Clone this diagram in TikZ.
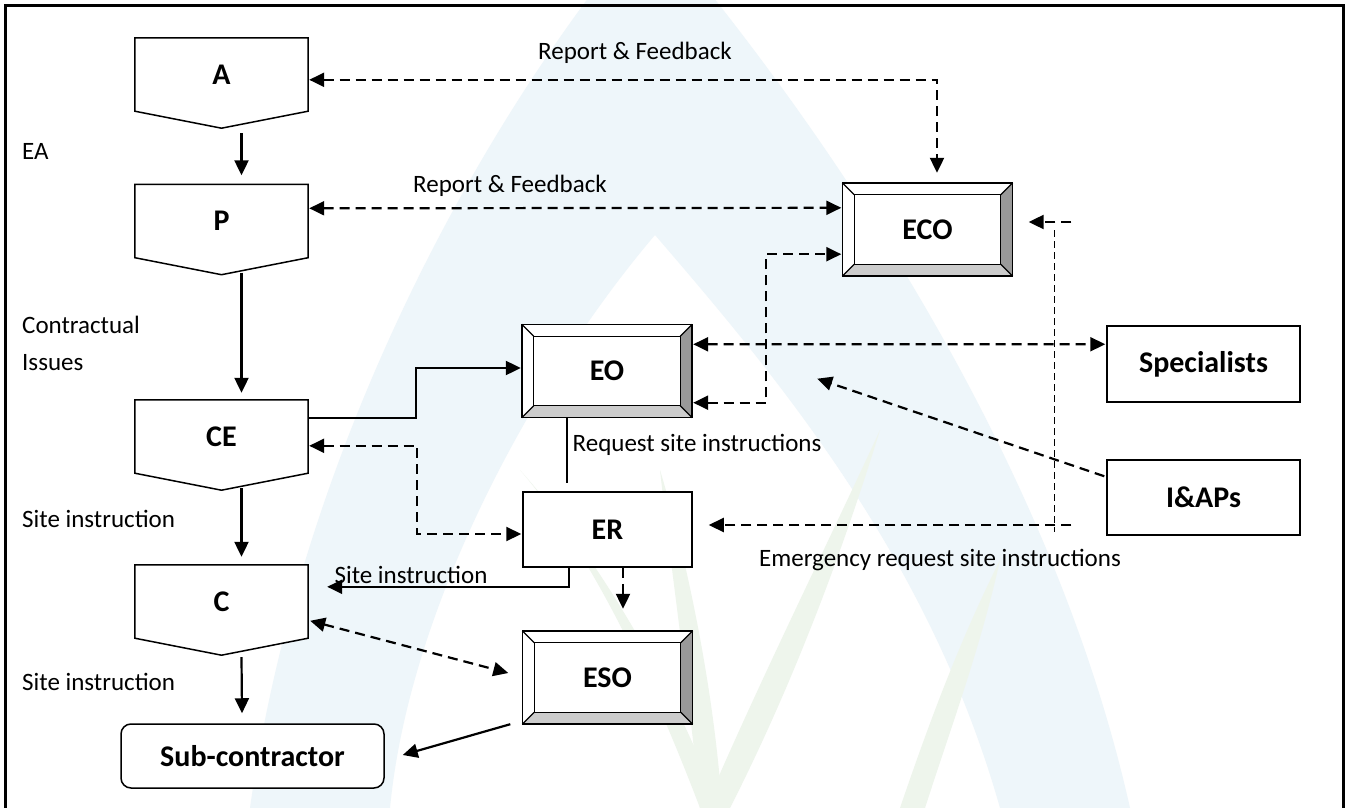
\documentclass[tikz,border=0pt]{standalone}
\usepackage{fontspec}
\setmainfont{Carlito}
\usetikzlibrary{arrows.meta,calc}
\definecolor{wmblue}{HTML}{EEF6FA}
\definecolor{wmgreen}{HTML}{EEF5EC}
\definecolor{bevdark}{HTML}{999999}
\definecolor{bevlight}{HTML}{CCCCCC}
\pgfdeclarelayer{wm}
\pgfdeclarelayer{bg}
\pgfsetlayers{wm,bg,main}

% five-sided "shield" outline under a pentagon node
\newcommand\pentframe[1]{%
  \begin{pgfonlayer}{bg}
    \draw[line width=1.5pt, fill=white] (#1.north west) -- (#1.north east) -- (#1.south east)
      -- ($(#1.south)+(0,17)$) -- (#1.south west) -- cycle;
  \end{pgfonlayer}}
% raised bevel frame round a bevel node
\newcommand\bevelframe[1]{%
  \fill[bevdark] (#1.north east) -- (#1.south east) -- ($(#1.south east)+(-12,-12)$) -- ($(#1.north east)+(-12,12)$) -- cycle;
  \fill[bevlight] (#1.south west) -- (#1.south east) -- ($(#1.south east)+(-12,-12)$) -- ($(#1.south west)+(12,-12)$) -- cycle;
  \draw[line width=1.5pt] (#1.north west) rectangle (#1.south east);
  \draw[line width=1.2pt] ($(#1.north west)+(12,12)$) rectangle ($(#1.south east)+(-12,-12)$);
  \draw[line width=1.2pt] (#1.north west) -- ++(12,12) (#1.north east) -- ++(-12,12)
    (#1.south east) -- ++(-12,-12) (#1.south west) -- ++(12,-12);}

\begin{document}
\begin{tikzpicture}[x=1pt,y=-1pt,
  lbl/.style={font=\fontsize{25}{30}\selectfont, inner sep=0pt},
  boxlbl/.style={font=\fontsize{30}{36}\selectfont\bfseries, inner sep=0pt},
  shell/.style={boxlbl, minimum width=173pt, minimum height=73pt},
  plainbox/.style={boxlbl, draw, fill=white, line width=1.5pt},
  bevelbox/.style={boxlbl, fill=white, minimum width=170pt, minimum height=93pt},
  tip/.tip={Triangle[length=15pt,width=14pt]},
  solidarrow/.style={line width=2.2pt, -tip},
  dashline/.style={line width=2.2pt, dash pattern=on 10pt off 6pt},
  dasharrow/.style={dashline, -tip},
  dashboth/.style={dashline, tip-tip},
  thindash/.style={line width=1.3pt, dash pattern=on 7pt off 4pt},
]
\useasboundingbox (0,0) rectangle (1350,808);

% paper and a faint drop-and-leaves emblem behind everything
\begin{pgfonlayer}{wm}
  \fill[white] (0,0) rectangle (1350,808);
  \fill[wmblue] (250,808) .. controls (300,450) and (480,120) .. (650,-80)
    .. controls (820,120) and (1050,450) .. (1130,808)
    -- (1000,808) .. controls (930,560) and (780,380) .. (655,235)
    .. controls (540,370) and (410,600) .. (390,808) -- cycle;
  \fill[wmgreen] (700,808) .. controls (640,650) and (580,540) .. (520,470)
    .. controls (600,560) and (670,680) .. (720,808) -- cycle;
  \fill[wmgreen] (700,808) .. controls (690,700) and (670,560) .. (660,470)
    .. controls (690,570) and (715,700) .. (722,808) -- cycle;
  \fill[wmgreen] (705,808) .. controls (760,680) and (820,560) .. (880,430)
    .. controls (840,560) and (790,690) .. (730,808) -- cycle;
  \fill[wmgreen] (900,808) .. controls (930,720) and (960,640) .. (1000,560)
    .. controls (980,650) and (950,730) .. (925,808) -- cycle;
\end{pgfonlayer}

% outer frame
\draw[line width=3pt] (5,808) -- (5,6) -- (1343,6) -- (1343,808);

% pentagon nodes
\node[shell] (A)  at (221.5,74.5)  {A};  \pentframe{A}
\node[shell] (P)  at (221.5,221)   {P};  \pentframe{P}
\node[shell] (CE) at (221.5,436.5) {CE}; \pentframe{CE}
\node[shell] (C)  at (221.5,601.5) {C};  \pentframe{C}

% bevelled nodes
\node[bevelbox] (ECO) at (927.5,229.5) {ECO}; \bevelframe{ECO}
\node[bevelbox] (EO)  at (607,371)     {EO};  \bevelframe{EO}
\node[bevelbox] (ESO) at (607.5,677.5) {ESO}; \bevelframe{ESO}

% plain nodes
\node[plainbox, minimum width=169pt, minimum height=75pt] (ER) at (607.5,529.5) {ER};
\node[plainbox, minimum width=193pt, minimum height=76pt] (Spec) at (1203.5,364) {Specialists};
\node[plainbox, minimum width=193pt, minimum height=75pt] (IAP) at (1203.5,497.5) {I\&APs};
\node[plainbox, rounded corners=10pt, minimum width=263pt, minimum height=64pt] (Sub) at (252.5,756) {Sub-contractor};

% side labels
\node[lbl, anchor=west] (lea)  at (22,151) {EA};
\node[lbl, anchor=west] (lci)  at (22,325) {Contractual};
\node[lbl, anchor=west] (lis)  at (22,363) {Issues};
\node[lbl, anchor=west] (lsi1) at (22,519) {Site instruction};
\node[lbl, anchor=west] (lsi2) at (22,682) {Site instruction};
\node[lbl] (lrf1) at (635,53)  {Report \& Feedback};
\node[lbl] (lrf2) at (510,186) {Report \& Feedback};
\node[lbl] (lrq)  at (697,445) {Request site instructions};
\node[lbl] (lem)  at (940,560) {Emergency request site instructions};
\node[lbl] (lsi3) at (411,575) {Site instruction};

% main chain
\draw[solidarrow] ($(A.south)+(20,22)$)  -- ($(P.north)+(20,-9)$);
\draw[solidarrow] ($(P.south)+(20,15)$)  -- ($(CE.north)+(20,-7)$);
\draw[solidarrow] ($(CE.south)+(20,15)$) -- ($(C.north)+(20,-8)$);
\draw[solidarrow] ($(C.south)+(20,19)$)  -- ($(Sub.north)+(-10.5,-10)$);

% reporting loops
\draw[dashboth] ($(A.north east)+(1,42)$) -| ($(ECO.north)+(9.5,-10)$);
\draw[dashboth] ($(P.north east)+(1,24)$) -- ($(ECO.north west)+(-1,25)$);
\draw[dashboth] ($(EO.south east)+(1,-15)$) -- ++(73,0) |- ($(ECO.south west)+(-1,-22)$);
\draw[dashboth] ($(EO.north east)+(1,20)$) -- ($(Spec.north west)+(-1,19)$);
\draw[dasharrow] ($(IAP.north west)+(-2,17)$) -- ($(EO.south east)+(125,-39)$);
\draw[dasharrow] ($(IAP.west)+(-35,-275.5)$) -- ($(ECO.east)+(16,-7.5)$);
\draw[dasharrow] ($(IAP.west)+(-35,27.5)$) -- ($(ER.east)+(16,-4.5)$);
\draw[thindash] ($(ECO.east)+(42,0.5)$) -- ($(ECO.east)+(42,302.5)$);

% contract engineer links
\draw[solidarrow] ($(CE.north east)+(0,18)$) -- ++(108,0) |- ($(EO.west)+(-1,-3)$);
\draw[dashboth] ($(CE.north east)+(1,46)$) -- ++(108,0) |- ($(ER.west)+(-1,4.5)$);
\draw[line width=1.5pt] ($(EO.south)+(-40,0)$) -- ++(0,65);

% site instructions
\draw[solidarrow] ($(ER.south)+(-38.5,0)$) |- ($(C.north east)+(19,22)$);
\draw[dasharrow] ($(ER.south)+(15.5,0)$) -- ($(ESO.north)+(15.5,-22)$);
\draw[dashboth] ($(C.north east)+(2,56)$) -- ($(ESO.west)+(-14,-4.5)$);
\draw[solidarrow] ($(ESO.south west)+(-12,0)$) -- ($(Sub.east)+(18,-1)$);
\end{tikzpicture}
\end{document}
